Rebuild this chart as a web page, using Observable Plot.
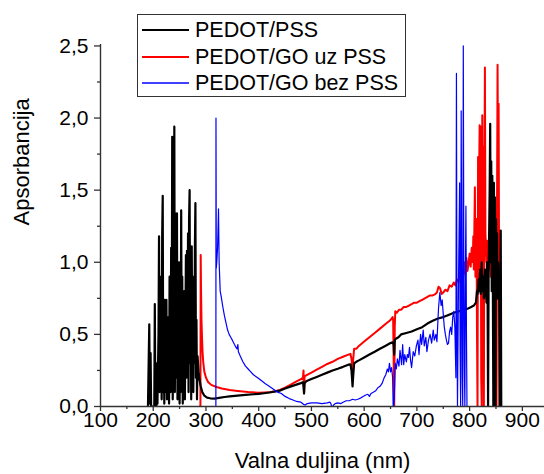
<!DOCTYPE html>
<html>
<head>
<meta charset="utf-8">
<script src="https://cdn.jsdelivr.net/npm/d3@7"></script>
<script src="https://cdn.jsdelivr.net/npm/@observablehq/plot@0.6"></script>
<style>
  body { margin: 0; background: #fff; }
  #wrap { position: relative; width: 544px; height: 474px; font-family: "Liberation Sans", Arial, sans-serif; }
  #legend { position: absolute; left: 137px; top: 14px; width: 269px; height: 83px; border: 1.3px solid #333; background: #fff; box-sizing: border-box; }
  .row { position: absolute; left: 0; height: 26px; width: 100%; }
  .row svg { position: absolute; left: 3px; top: 0; }
  .row span { position: absolute; left: 57px; top: 0; font-size: 21.5px; line-height: 26px; color: #000; white-space: nowrap; }
</style>
</head>
<body>
<div id="wrap"></div>
<script>
// ---- data: wavelength (nm), absorbance ----
const seriesNames = ["PEDOT/PSS", "PEDOT/GO uz PSS", "PEDOT/GO bez PSS"];
const seriesColors = ["#000000", "#ff0000", "#0000ff"];
const xTicks = [100, 200, 300, 400, 500, 600, 700, 800, 900];
const xMinorTicks = [150, 250, 350, 450, 550, 650, 750, 850];
const yTicks = [0, 0.5, 1.0, 1.5, 2.0, 2.5];
const yMinorTicks = [0.25, 0.75, 1.25, 1.75, 2.25];
const xLabel = "Valna duljina (nm)";
const yLabel = "Apsorbancija";

const pedotPss = [
  [190,0],[192.5,0.57],[193.5,0.02],[195,0.37],[196,0],[202,0],[203,0.71],[204,0.02],[206,0],[207,0.3],[208,0.02],
  [210,0.5],[211,1.18],[212,0.1],[213,0.9],[214,0.2],[215,0.6],[216,0.05],[217,1.2],[218,1.46],[219,0.1],[220,0.45],
  [221,0.02],[222,0.74],[223,0.1],[224,0.5],[225,0.74],[226,0.05],[227,0.62],[228,0.2],[229,0.55],[230,0.02],
  [231,0.9],[232,0.88],[233,0.1],[234,1.1],[235,0.3],[236,1.87],[237,0.05],[238,1.2],[239,0.4],[240,1.94],
  [241,0.1],[242,1.34],[243,1.0],[244,0.2],[245,1.34],[246,0.05],[247,0.8],[248,0.3],[249,1.0],[250,0.02],
  [251,0.6],[252,0.1],[253,1.36],[254,0.3],[255,0.9],[256,0.02],[257,0.5],[258,0.1],[259,0.8],[260,0.05],
  [262,1.05],[263,0.2],[264,1.08],[265,0.4],[266,1.2],[267,0.1],[268,1.3],[269,1.5],[270,0.3],[271,1.1],
  [272,0.05],[273,1.11],[274,0.4],[275,0.9],[276,0.1],[277,0.68],[278,0.3],[279,1.1],[280,1.41],[281,0.2],
  [282,0.6],[283,0.05],[284,0.35],[285,0.3],[286,0.24],[288,0.18],[290,0.14],[293,0.1],[297,0.075],[302,0.062],
  [308,0.057],[316,0.055],[325,0.06],[335,0.066],[345,0.07],[360,0.076],[375,0.08],[390,0.085],[400,0.088],
  [410,0.092],[420,0.097],[430,0.103],[440,0.11],[450,0.125],[460,0.138],[470,0.15],[480,0.162],[484,0.168],
  [485,0.14],[486,0.09],[487,0.16],[490,0.175],[500,0.19],[510,0.205],[520,0.22],[530,0.235],[540,0.25],
  [550,0.262],[560,0.275],[570,0.29],[574,0.292],[576,0.25],[578,0.14],[579,0.2],[581,0.3],[585,0.31],
  [590,0.32],[600,0.34],[610,0.36],[620,0.38],[630,0.4],[640,0.42],[650,0.44],[654,0.445],[656,0.43],
  [657,0.36],[658,0.46],[660,0.47],[665,0.48],[670,0.5],[680,0.51],[690,0.52],[700,0.535],[710,0.55],
  [720,0.575],[730,0.595],[740,0.61],[750,0.62],[760,0.635],[770,0.65],[780,0.66],[790,0.67],[797,0.68],
  [803,0.69],[808,0.7],[810,0.71],[812,0.72],[814,0.8],[815,0.78],[817,0.88],[818,0.8],[820,0.95],[821,0.78],
  [823,1.0],[824,0.8],[826,0.9],[827,0.75],[829,0.95],[830,0.85],[832,0.72],[833,1.0],[834,0.8],[835,0],
  [836,0.9],[837,1.2],[838,1.5],[839,1.96],[840,1.0],[841,1.7],[842,0.8],[843,1.6],[844,0.9],[845,0],
  [846,1.55],[847,0.7],[848,1.45],[849,0],[850,1.3],[851,0.8],[852,1.2],[853,0.75],[854,1.0],[855,0.8],
  [856,0.9],[857,0],[859,1.22],[860,0]
];

const pedotGoUzPss = [
  [288,0],[289.5,0],[290,1.05],[290.7,0.8],[291.5,0.6],[292.5,0.48],[293.5,0.38],[295,0.3],[297,0.24],
  [300,0.2],[304,0.17],[310,0.15],[320,0.135],[330,0.125],[345,0.115],[360,0.108],[380,0.1],[400,0.095],
  [420,0.098],[430,0.105],[440,0.115],[450,0.13],[460,0.15],[470,0.17],[480,0.19],[484,0.2],[485,0.25],
  [486,0.09],[487,0.21],[490,0.215],[500,0.235],[510,0.255],[520,0.275],[530,0.295],[540,0.31],[550,0.33],
  [560,0.345],[570,0.36],[574,0.365],[576,0.33],[578,0.26],[579,0.32],[581,0.4],[585,0.4],[590,0.42],
  [600,0.45],[610,0.48],[620,0.51],[630,0.54],[640,0.57],[650,0.6],[654,0.62],[655,0.6],[656,0.3],[657,0],
  [658,0.55],[659,0.66],[662,0.65],[666,0.67],[670,0.67],[675,0.69],[680,0.69],[685,0.7],[690,0.71],
  [695,0.72],[700,0.72],[705,0.73],[710,0.74],[715,0.75],[720,0.76],[725,0.77],[730,0.77],[735,0.78],
  [738,0.79],[741,0.83],[744,0.82],[747,0.78],[750,0.79],[754,0.81],[758,0.8],[762,0.84],[766,0.83],
  [770,0.86],[773,0.84],[776,0.88],[779,0.86],[782,0.93],[784,0.88],[786,0.96],[788,0.9],[790,1.0],
  [792,0.92],[794,1.03],[796,0.94],[798,0.99],[800,1.06],[802,0.97],[804,1.1],[806,1.0],[807,1.18],
  [808,0.95],[810,1.52],[811,0.9],[812,1.25],[813,1.3],[814,0.5],[815,0],[816,1.73],[817,0.8],[818,1.6],
  [819,1.95],[820,0.9],[821,1.94],[822,0.2],[823,0],[824,2.02],[825,1.1],[826,1.8],[827,0],[828,1.5],
  [829,2.35],[830,1.2],[832,1.0],[834,1.15],[836,0.95],[838,1.1],[840,0.9],[842,1.05],[844,0.95],[846,1.1],
  [848,0.9],[850,1.0],[851,0],[852,1.4],[853,2.37],[854,1.5],[855,2.1],[856,0.8],[857,0]
];

const pedotGoBezPss = [
  [318,0],[318.8,0],[319,2.0],[319.6,0.96],[320.5,1.0],[322,1.1],[323.8,1.37],[325,1.0],[327,0.8],[329,0.76],
  [332,0.69],[335,0.63],[338,0.58],[341,0.53],[344,0.5],[347,0.48],[350,0.46],[354,0.43],[357,0.41],[359,0.4],
  [360.5,0.43],[361.5,0.38],[365,0.35],[370,0.31],[375,0.28],[380,0.26],[385,0.24],[390,0.22],[398,0.2],
  [405,0.18],[412,0.16],[420,0.14],[428,0.12],[436,0.1],[443,0.09],[450,0.07],[458,0.055],[465,0.045],
  [472,0.035],[480,0.03],[485,0.015],[488,0.01],[492,0.02],[500,0.025],[510,0.025],[520,0.02],[530,0.025],
  [535,0.03],[537,0.02],[538,0],[540,0],[542,0.01],[545,0.02],[550,0.025],[556,0.02],[560,0.03],[566,0.04],
  [572,0.04],[578,0.05],[583,0.045],[588,0.05],[594,0.06],[598,0.07],[603,0.08],[607,0.085],[610,0.07],
  [613,0.09],[618,0.1],[622,0.11],[626,0.13],[630,0.14],[634,0.16],[638,0.2],[641,0.22],[644,0.26],
  [646,0.24],[648,0.3],[650,0.24],[652,0.27],[654,0.2],[655,0],[656,0],[657,0.05],[659,0.3],[661,0.26],
  [663,0.33],[666,0.28],[668,0.39],[671,0.29],[673,0.43],[675,0.29],[677,0.36],[680,0.31],[682,0.36],
  [684,0.34],[686,0.41],[688,0.32],[690,0.27],[693,0.38],[696,0.35],[699,0.42],[702,0.46],[704,0.36],
  [707,0.5],[709,0.43],[712,0.53],[714,0.42],[717,0.48],[719,0.38],[722,0.46],[725,0.5],[728,0.44],
  [731,0.53],[733,0.46],[736,0.5],[738,0.45],[741,0.68],[743.5,0.79],[746,0.7],[748,0.74],[750,0.64],
  [752,0.55],[754,0.5],[756,0.46],[758,0.43],[760,0.44],[762,0.52],[764,0.55],[766,0.5],[768,0.62],
  [770,0.66],[772,0.55],[774,0.2],[775,2.31],[776,0.6],[777,0],[779,0.9],[780,1.2],[781,1.55],[782,0.4],
  [783,0],[784,2.05],[785,1.0],[786,0.2],[787,0],[788,2.5],[789,1.0],[790,0.3],[791,0],[792,0.9],
  [793,1.39],[794,0.5],[795,0]
];

const seriesData = [pedotPss, pedotGoUzPss, pedotGoBezPss];

const fmt = d => d.toFixed(1).replace(".", ",");
const axisColor = "#333";

const chart = Plot.plot({
  width: 544,
  height: 474,
  marginLeft: 100,
  marginRight: 0,
  marginTop: 44,
  marginBottom: 68,
  style: { fontFamily: "'Liberation Sans', Arial, sans-serif", fontSize: "21px", background: "#fff", color: "#000" },
  x: { domain: [100, 942] },
  y: { domain: [0, 2.51] },
  marks: [
    Plot.line(pedotGoUzPss, { x: d => d[0], y: d => d[1], stroke: seriesColors[1], strokeWidth: 2, clip: true }),
    Plot.line(pedotPss, { x: d => d[0], y: d => d[1], stroke: seriesColors[0], strokeWidth: 2.2, clip: true }),
    Plot.line(pedotGoBezPss, { x: d => d[0], y: d => d[1], stroke: seriesColors[2], strokeWidth: 1.2, clip: true }),
    Plot.ruleY([0], { stroke: axisColor, strokeWidth: 1.4 }),
    Plot.ruleX([100], { stroke: axisColor, strokeWidth: 1.4 }),
    Plot.axisX({ ticks: xTicks, tickSize: 5, tickPadding: 1, tickFormat: d => String(d), stroke: axisColor, strokeWidth: 1.3, label: null }),
    Plot.axisX({ ticks: xMinorTicks, tickSize: 3, text: null, stroke: axisColor, strokeWidth: 1.3, label: null }),
    Plot.axisY({ ticks: yTicks, tickSize: 6, tickPadding: 6, tickFormat: fmt, stroke: axisColor, strokeWidth: 1.3, label: null }),
    Plot.axisY({ ticks: yMinorTicks, tickSize: 3, text: null, stroke: axisColor, strokeWidth: 1.3, label: null }),
    Plot.text([xLabel], { frameAnchor: "bottom", dy: 61, lineAnchor: "bottom", fontSize: 22, fill: "#000" }),
    Plot.text([yLabel], { frameAnchor: "left", dx: -71.5, rotate: -90, lineAnchor: "bottom", fontSize: 22, fill: "#000" })
  ]
});

const wrap = document.getElementById("wrap");
wrap.appendChild(chart);

const legend = document.createElement("div");
legend.id = "legend";
seriesNames.forEach((name, i) => {
  const row = document.createElement("div");
  row.className = "row";
  row.style.top = (2 + i * 26.5) + "px";
  const sw = i === 2 ? 1.3 : 2;
  row.innerHTML = `<svg width="48" height="26"><line x1="1" x2="48" y1="13" y2="13" stroke="${seriesColors[i]}" stroke-width="${sw}"/></svg><span>${name}</span>`;
  legend.appendChild(row);
});
wrap.appendChild(legend);
</script>
</body>
</html>
